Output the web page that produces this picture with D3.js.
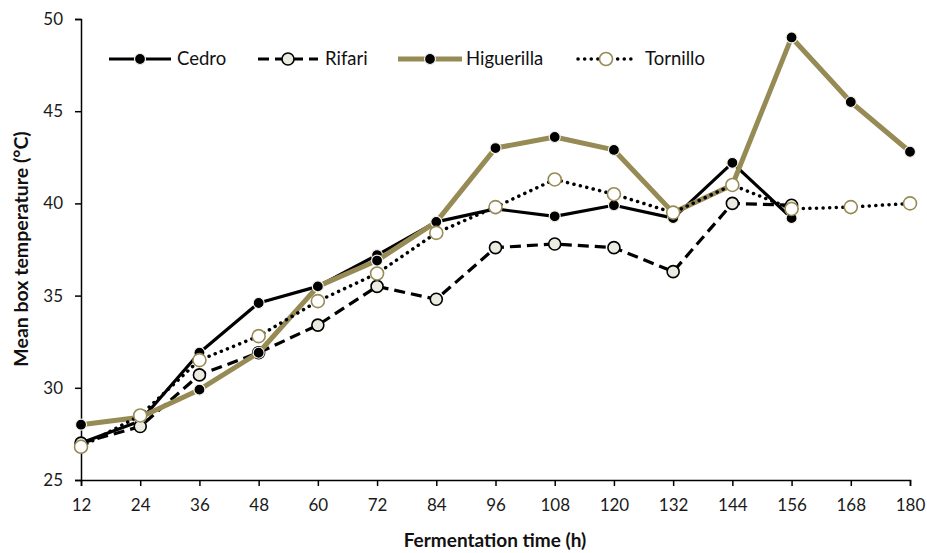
<!DOCTYPE html>
<html>
<head>
<meta charset="utf-8">
<script src="https://cdn.jsdelivr.net/npm/d3@7/dist/d3.min.js"></script>
<style>
  html, body { margin: 0; padding: 0; background: #fff; }
  svg { display: block; font-family: Lato, "Open Sans", sans-serif; }
</style>
</head>
<body>
<svg id="chart" width="927" height="553"></svg>
<script>
// Fermentation time (h) and mean box temperature (°C) per wood type
const hours = [12, 24, 36, 48, 60, 72, 84, 96, 108, 120, 132, 144, 156, 168, 180];
const cedro = [27.0, 28.2, 31.9, 34.6, 35.5, 37.2, 39.0, 39.7, 39.3, 39.9, 39.2, 42.2, 39.2];
const rifari = [27.0, 27.9, 30.7, 31.9, 33.4, 35.5, 34.8, 37.6, 37.8, 37.6, 36.3, 40.0, 39.9];
const higuerilla = [28.0, 28.4, 29.9, 31.9, 35.5, 36.9, 39.0, 43.0, 43.6, 42.9, 39.5, 41.0, 49.0, 45.5, 42.8];
const tornillo = [26.8, 28.5, 31.5, 32.8, 34.7, 36.2, 38.4, 39.8, 41.3, 40.5, 39.5, 41.0, 39.7, 39.8, 40.0];
const yTicks = [25, 30, 35, 40, 45, 50];
const seriesNames = ["Cedro", "Rifari", "Higuerilla", "Tornillo"];

const olive = "#978b55";
const styles = {
  Cedro:      { stroke: "#000", width: 3.2, dash: null,     cap: "butt",  r: 5.5, fill: "#000",    mStroke: "#f4f3ea", mWidth: 1.2 },
  Rifari:     { stroke: "#000", width: 3.2, dash: "11,6",   cap: "butt",  r: 6,   fill: "#ecebe2", mStroke: "#000",    mWidth: 1.6 },
  Higuerilla: { stroke: olive,  width: 5,   dash: null,     cap: "butt",  r: 5.5, fill: "#000",    mStroke: "#f4f3ea", mWidth: 1.2 },
  Tornillo:   { stroke: "#000", width: 3.5, dash: "0.1,6.5", cap: "round", r: 6.5, fill: "#fff",   mStroke: olive,     mWidth: 1.6 }
};
const values = { Cedro: cedro, Rifari: rifari, Higuerilla: higuerilla, Tornillo: tornillo };

const svg = d3.select("#chart");
const x = d3.scaleLinear().domain([12, 180]).range([81, 910]);
const y = d3.scaleLinear().domain([25, 50]).range([480, 19]);

// Axes
const xAxis = svg.append("g").attr("transform", "translate(0,480)")
  .call(d3.axisBottom(x).tickValues(hours).tickSize(6).tickPadding(13).tickFormat(d3.format("d")));
const yAxis = svg.append("g").attr("transform", "translate(81,0)")
  .call(d3.axisLeft(y).tickValues(yTicks).tickSize(6).tickPadding(12));
[xAxis, yAxis].forEach(a => {
  a.select(".domain").attr("stroke", "#000").attr("stroke-width", 1.5);
  a.selectAll(".tick line").attr("stroke", "#000").attr("stroke-width", 1.5);
  a.selectAll(".tick text").attr("fill", "#1a1a1a").style("font-size", "17px").style("font-family", "Lato, 'Open Sans', sans-serif");
});

// Axis titles
svg.append("text").attr("x", 495).attr("y", 547).attr("text-anchor", "middle")
  .style("font-size", "19px").style("font-weight", "bold").attr("fill", "#111")
  .text("Fermentation time (h)");
svg.append("text").attr("transform", "translate(28,249) rotate(-90)").attr("text-anchor", "middle")
  .style("font-size", "19.5px").style("font-weight", "bold").attr("fill", "#111")
  .text("Mean box temperature (°C)");

// Series lines and markers, drawn in legend order
const line = d3.line().x((d, i) => x(hours[i])).y(d => y(d));
seriesNames.forEach(name => {
  const s = styles[name];
  const data = values[name];
  const g = svg.append("g");
  g.append("path").datum(data).attr("d", line)
    .attr("fill", "none").attr("stroke", s.stroke).attr("stroke-width", s.width)
    .attr("stroke-dasharray", s.dash).attr("stroke-linecap", s.cap).attr("stroke-linejoin", "round");
  g.selectAll("circle").data(data).join("circle")
    .attr("cx", (d, i) => x(hours[i])).attr("cy", d => y(d)).attr("r", s.r)
    .attr("fill", s.fill).attr("stroke", s.mStroke).attr("stroke-width", s.mWidth);
});

// Legend
const legendItems = [
  { name: "Cedro",      x0: 109, x1: 171, tx: 177 },
  { name: "Rifari",     x0: 258, x1: 318, tx: 325 },
  { name: "Higuerilla", x0: 398, x1: 462, tx: 466 },
  { name: "Tornillo",   x0: 578, x1: 634, tx: 645 }
];
const ly = 59;
legendItems.forEach(it => {
  const s = styles[it.name];
  const g = svg.append("g");
  g.append("line").attr("x1", it.x0).attr("x2", it.x1).attr("y1", ly).attr("y2", ly)
    .attr("stroke", s.stroke).attr("stroke-width", s.width)
    .attr("stroke-dasharray", s.dash).attr("stroke-linecap", s.cap);
  g.append("circle").attr("cx", (it.x0 + it.x1) / 2).attr("cy", ly).attr("r", s.r)
    .attr("fill", s.fill).attr("stroke", s.mStroke).attr("stroke-width", s.mWidth);
  g.append("text").attr("x", it.tx).attr("y", ly + 6).style("font-size", "18.5px").attr("fill", "#111")
    .text(it.name);
});
</script>
</body>
</html>
